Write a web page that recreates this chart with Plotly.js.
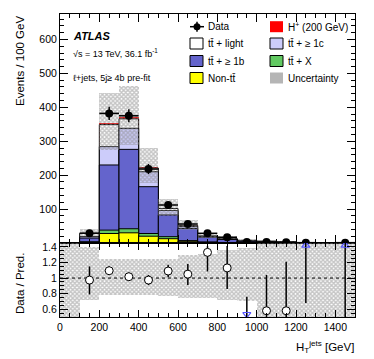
<!DOCTYPE html>
<html>
<head>
<meta charset="utf-8">
<script src="https://cdn.plot.ly/plotly-3.0.1.min.js"></script>
<style>
html, body { margin: 0; padding: 0; background: #fff; }
#chart { width: 374px; height: 359px; }
</style>
</head>
<body>
<div id="chart"></div>
<script>
"use strict";

// bins of 100 GeV, centres
const binX = [50, 150, 250, 350, 450, 550, 650, 750, 850, 950, 1050, 1150, 1250, 1350, 1450];

// stacked prediction, bottom to top
const nonTT   = [0, 2.5, 28, 30, 20, 12.7, 5, 2, 1, 0.4, 0.3, 0.2, 0.05, 0.03, 0.02];
const ttX     = [0, 1, 10, 12, 8, 6, 2, 1, 0.5, 0.3, 0.2, 0.1, 0.03, 0.02, 0.02];
const ttB     = [0, 11, 192, 234, 138, 64, 36, 14, 9, 5.5, 3.8, 2.6, 0.45, 0.3, 0.2];
const ttC     = [0, 4, 54, 62, 44, 13, 6, 2.5, 2, 0.8, 0.5, 0.3, 0.07, 0.05, 0.03];
const ttLight = [0, 10, 65, 28, 11, 6, 3, 1.5, 2, 0.7, 0.4, 0.3, 0.05, 0.03, 0.03];
const hPlus   = [0, 0.5, 4, 4, 4, 2, 1, 0.5, 0.3, 0.1, 0, 0, 0, 0, 0];

// relative uncertainty band (ratio panel)
const bandLo = [0.3, 0.72, 0.78, 0.78, 0.78, 0.77, 0.75, 0.74, 0.72, 0.70, 0.3, 0.3, 0.3, 0.3, 0.3];
const bandHi = [1.7, 1.40, 1.25, 1.25, 1.24, 1.25, 1.30, 1.31, 1.36, 1.38, 1.7, 1.7, 1.7, 1.7, 1.7];

// data
const dataX   = [150, 250, 350, 450, 550, 650, 750, 850, 950, 1050, 1150, 1250, 1450];
const dataY   = [29, 382, 375, 218, 112, 56, 28.6, 17, 3, 3, 2, 1, 1];
const dataErr = [5.4, 19.5, 19.4, 14.8, 10.6, 7.5, 5.3, 4.1, 1.7, 1.7, 1.4, 1, 1];

// data / prediction
const ratioY  = [0.974, 1.094, 1.017, 0.974, 1.09, 1.05, 1.33, 1.13, 0.38, 0.58, 0.58, 1.7, 3.3];
const ratioHi = [1.15, 1.15, 1.07, 1.04, 1.17, 1.18, 1.41, 1.41, 0.76, 1.04, 1.21, 6, 10];
const ratioLo = [0.79, 1.04, 0.97, 0.91, 1.01, 0.91, 1.085, 0.86, 0.1, 0.3, 0.2, 0.68, 0.3];

const xRange = [0, 1500];
const yRange = [0, 675];
const rRange = [0.5, 1.45];

const FONT = "Liberation Sans, Arial, Helvetica, sans-serif";
const TTBAR = "t\u0074\u0304";

//STACK
const layers = [
	{name: "Non-" + TTBAR, v: nonTT, color: "#ffff00"},
	{name: TTBAR + " + X", v: ttX, color: "#62c962"},
	{name: TTBAR + " + \u2265 1b", v: ttB, color: "#6464cc"},
	{name: TTBAR + " + \u2265 1c", v: ttC, color: "#ccccfa"},
	{name: TTBAR + " + light", v: ttLight, color: "#ffffff"},
	{name: "H+", v: hPlus, color: "#ff0000"}
];

let cum = binX.map(() => 0);
for(let l of layers){
	cum = cum.map((c, i) => c + l.v[i]);
	l.top = cum.slice();
}
const total = cum;

let traces = [];
for(let i = layers.length - 1; i >= 0; i--){
	const l = layers[i];
	const red = (l.name == "H+");
	traces.push({
		type: 'bar', x: binX, y: l.top, width: 100,
		xaxis: 'x', yaxis: 'y',
		marker: {color: l.color, line: {color: (red? l.color: '#000'), width: (red? 0: 1)}},
		hoverinfo: 'skip', showlegend: false
	});
}

const hatch = {shape: 'x', size: 3, solidity: 0.7, fgcolor: '#8a8a8a', fillmode: 'overlay'};

// uncertainty in main panel
traces.push({
	type: 'bar', x: binX, width: 100,
	base: total.map((t, i) => t * bandLo[i]),
	y: total.map((t, i) => t * (bandHi[i] - bandLo[i])),
	xaxis: 'x', yaxis: 'y',
	marker: {color: 'rgba(0,0,0,0)', line: {width: 0}, pattern: hatch},
	hoverinfo: 'skip', showlegend: false
});

// data
traces.push({
	type: 'scatter', mode: 'markers', x: dataX, y: dataY,
	xaxis: 'x', yaxis: 'y',
	marker: {color: '#000', size: 8},
	error_y: {type: 'data', array: dataErr, color: '#000', thickness: 1.5, width: 0},
	error_x: {type: 'constant', value: 50, color: '#000', thickness: 1.5, width: 0},
	showlegend: false
});

// ratio band
traces.push({
	type: 'bar', x: binX, width: 100,
	base: bandLo,
	y: bandHi.map((h, i) => h - bandLo[i]),
	xaxis: 'x2', yaxis: 'y2',
	marker: {color: 'rgba(0,0,0,0)', line: {width: 0}, pattern: hatch},
	hoverinfo: 'skip', showlegend: false
});

traces.push({
	type: 'scatter', mode: 'lines', x: xRange, y: [1, 1],
	xaxis: 'x2', yaxis: 'y2',
	line: {color: '#000', width: 1, dash: 'dot'},
	hoverinfo: 'skip', showlegend: false
});

traces.push({
	type: 'scatter', mode: 'markers', x: dataX, y: ratioY,
	xaxis: 'x2', yaxis: 'y2',
	marker: {color: '#fff', size: 8, line: {color: '#000', width: 1}},
	error_y: {type: 'data', symmetric: false,
		array: ratioHi.map((h, i) => h - ratioY[i]),
		arrayminus: ratioY.map((r, i) => r - ratioLo[i]),
		color: '#000', thickness: 1.5, width: 0},
	showlegend: false
});

// out of range arrows
const outX = [], outY = [], outS = [];
dataX.forEach((x, i) => {
	if(ratioY[i] < rRange[0]){ outX.push(x); outY.push(rRange[0] + 0.035); outS.push('triangle-down-open'); }
	if(ratioY[i] > rRange[1]){ outX.push(x); outY.push(rRange[1] - 0.03); outS.push('triangle-up-open'); }
});
traces.push({
	type: 'scatter', mode: 'markers', x: outX, y: outY,
	xaxis: 'x2', yaxis: 'y2',
	marker: {symbol: outS, color: '#5555ff', size: 7, line: {width: 1.2, color: '#5555ff'}},
	showlegend: false
});

//LAYOUT
const M = {l: 60, r: 19, t: 14, b: 42};
const W = 374, H = 359;
const pw = W - M.l - M.r, ph = H - M.t - M.b;
const split = (317 - 243) / ph;
const px = x => (x - M.l) / pw;
const py = y => (H - M.b - y) / ph;

const axBase = {
	showline: true, linecolor: '#000', linewidth: 1, mirror: 'allticks',
	ticks: 'inside', tickcolor: '#000', tickwidth: 1,
	showgrid: false, zeroline: false,
	tickfont: {family: FONT, size: 10.5, color: '#000'}
};

const layout = {
	width: W, height: H,
	margin: M,
	paper_bgcolor: '#fff', plot_bgcolor: '#fff',
	barmode: 'overlay', bargap: 0,
	font: {family: FONT, size: 10, color: '#000'},
	xaxis: Object.assign({}, axBase, {
		anchor: 'y', domain: [0, 1], range: xRange, matches: 'x2',
		dtick: 200, tick0: 0, ticklen: 8, showticklabels: false,
		minor: {dtick: 50, ticklen: 4, ticks: 'inside', tickcolor: '#000'}
	}),
	yaxis: Object.assign({}, axBase, {
		anchor: 'x', domain: [split, 1], range: yRange,
		tickmode: 'array', tickvals: [100, 200, 300, 400, 500, 600],
		ticklen: 8,
		minor: {tickmode: 'linear', tick0: 0, dtick: 20, ticklen: 4, ticks: 'inside', tickcolor: '#000'}
	}),
	xaxis2: Object.assign({}, axBase, {
		anchor: 'y2', domain: [0, 1], range: xRange,
		dtick: 200, tick0: 0, ticklen: 7,
		minor: {dtick: 50, ticklen: 4, ticks: 'inside', tickcolor: '#000'}
	}),
	yaxis2: Object.assign({}, axBase, {
		anchor: 'x2', domain: [0, split], range: rRange,
		tickmode: 'array', tickvals: [0.6, 0.8, 1, 1.2, 1.4],
		ticktext: ['0.6', '0.8', '1', '1.2', '1.4'],
		ticklen: 8,
		minor: {tickmode: 'linear', tick0: 0, dtick: 0.05, ticklen: 4, ticks: 'inside', tickcolor: '#000'}
	}),
	shapes: [],
	annotations: []
};

function note(text, x, y, opt){
	layout.annotations.push(Object.assign({
		text: text, xref: 'paper', yref: 'paper', x: px(x), y: py(y),
		xanchor: 'left', yanchor: 'middle', showarrow: false,
		font: {family: FONT, size: 10, color: '#000'}
	}, opt || {}));
}

// axis titles
note("Events / 100 GeV", 20, 14, {textangle: -90, xanchor: 'center', yanchor: 'top', font: {family: FONT, size: 11.5, color: '#000'}});
note("Data / Pred.", 20, 284, {textangle: -90, xanchor: 'center', yanchor: 'middle', font: {family: FONT, size: 11.5, color: '#000'}});
note("H<sub>T</sub><sup>jets</sup> [GeV]", 356, 347, {xanchor: 'right', font: {family: FONT, size: 11.5, color: '#000'}});

// ATLAS labels
note("<b><i>ATLAS</i></b>", 71, 36, {font: {family: FONT, size: 11, color: '#000'}});
note("\u221As = 13 TeV, 36.1 fb<sup>-1</sup>", 71, 53, {font: {family: FONT, size: 9, color: '#000'}});
note("\u2113+jets, 5j\u2265 4b pre-fit", 71, 78, {font: {family: FONT, size: 9, color: '#000'}});

// legend
const legRows = [26.7, 43.5, 61, 78];
const legCols = [190, 270];
const legItems = [
	{col: 0, row: 0, text: "Data", kind: 'data'},
	{col: 1, row: 0, text: "H<sup>+</sup> (200 GeV)", color: "#ff0000", line: false},
	{col: 0, row: 1, text: layers[4].name, color: layers[4].color, line: true},
	{col: 1, row: 1, text: layers[3].name, color: layers[3].color, line: true},
	{col: 0, row: 2, text: layers[2].name, color: layers[2].color, line: true},
	{col: 1, row: 2, text: layers[1].name, color: layers[1].color, line: true},
	{col: 0, row: 3, text: layers[0].name, color: layers[0].color, line: true},
	{col: 1, row: 3, text: "Uncertainty", color: "#b5b5b5", line: false}
];
for(let it of legItems){
	const x0 = legCols[it.col], x1 = x0 + 13, yc = legRows[it.row];
	if(it.kind == 'data'){
		layout.shapes.push({type: 'line', xref: 'paper', yref: 'paper', x0: px(x0), x1: px(x1 + 1), y0: py(yc), y1: py(yc), line: {color: '#000', width: 1.5}});
		layout.shapes.push({type: 'line', xref: 'paper', yref: 'paper', x0: px(x0 + 7), x1: px(x0 + 7), y0: py(yc - 5), y1: py(yc + 5), line: {color: '#000', width: 1.5}});
		layout.shapes.push({type: 'circle', xref: 'paper', yref: 'paper', x0: px(x0 + 3.5), x1: px(x0 + 10.5), y0: py(yc - 3.5), y1: py(yc + 3.5), fillcolor: '#000', line: {color: '#000', width: 0}});
	}else{
		layout.shapes.push({type: 'rect', xref: 'paper', yref: 'paper', x0: px(x0), x1: px(x1), y0: py(yc - 5.5), y1: py(yc + 5.5),
			fillcolor: it.color, line: {color: (it.line? '#000': it.color), width: (it.line? 1: 0)}});
	}
	note(it.text, x1 + 3, yc, {});
}

Plotly.newPlot('chart', traces, layout, {staticPlot: true, displayModeBar: false});
</script>
</body>
</html>
